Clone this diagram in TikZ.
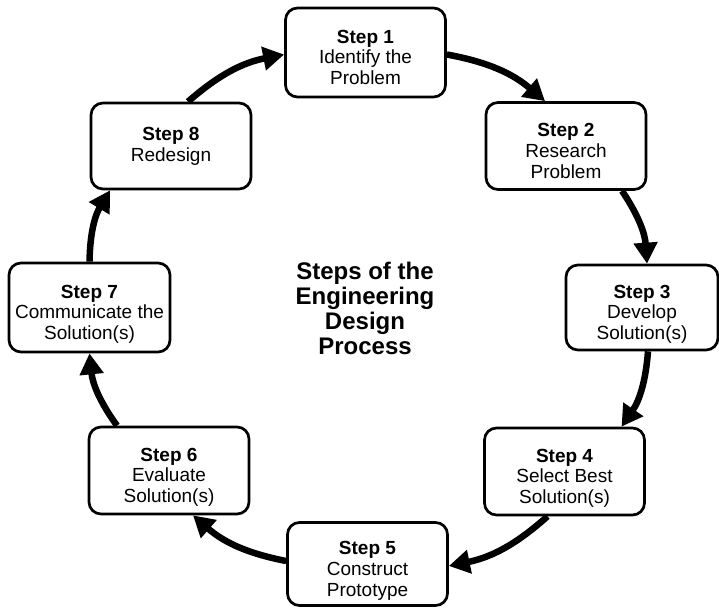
\documentclass[tikz,border=0pt]{standalone}
\usepackage{fontspec}
\setmainfont{Liberation Sans}
\usetikzlibrary{arrows.meta}
\newcommand{\threeline}[3]{\rule{0pt}{28.6pt}\textbf{#1}\\#2\\#3\rule[-6pt]{0pt}{6pt}}
\begin{document}
\begin{tikzpicture}[x=1pt,y=-1pt,
  stepbox/.style={draw=black, line width=2.7pt, rounded corners=12pt, fill=white,
    minimum width=160pt, minimum height=87pt, inner sep=1pt, align=center,
    font=\fontsize{19}{20.7}\selectfont},
  flow/.style={line width=6.5pt, -{Triangle[length=21pt,width=23pt]}, bend left=15},
  title/.style={align=center, font=\fontsize{24}{25}\selectfont\bfseries}]
\useasboundingbox (0,0) rectangle (719,607);
\node[stepbox, minimum height=89pt] (s1) at (365.5,52.5) {\threeline{Step 1}{Identify the}{Problem}};
\node[stepbox] (s2) at (566,146) {\threeline{Step 2}{Research}{Problem}};
\node[stepbox, minimum width=152pt, minimum height=85pt] (s3) at (642,307.5) {\threeline{Step 3}{Develop}{Solution(s)}};
\node[stepbox] (s4) at (564.5,471.5) {\threeline{Step 4}{Select Best}{Solution(s)}};
\node[stepbox, minimum height=83pt] (s5) at (367.5,564) {\threeline{Step 5}{Construct}{Prototype}};
\node[stepbox] (s6) at (169,470.5) {\threeline{Step 6}{Evaluate}{Solution(s)}};
\node[stepbox, minimum width=161pt, minimum height=89pt] (s7) at (89.5,307.5) {\threeline{Step 7}{Communicate the}{Solution(s)}};
\node[stepbox, minimum height=86pt] (s8) at (171,146) {\textbf{Step 8}\\Redesign};
\node[title] (t) at (365,308) {Steps of the\\Engineering\\Design\\Process};
\draw[flow] ([yshift=-2pt]s1.east) to ([xshift=-21pt]s2.north);
\draw[flow] ([xshift=56pt]s2.south) to ([xshift=5pt]s3.north);
\draw[flow] ([xshift=6pt]s3.south) to ([xshift=57pt]s4.north);
\draw[flow] ([xshift=-17pt]s4.south) to ([yshift=-2pt]s5.east);
\draw[flow] ([yshift=3pt]s5.west) to ([xshift=24pt]s6.south);
\draw[flow] ([xshift=-52pt]s6.north) to (s7.south);
\draw[flow] (s7.north) to ([xshift=-61pt]s8.south);
\draw[flow] ([xshift=17pt]s8.north) to ([yshift=-2pt]s1.west);
\end{tikzpicture}
\end{document}
